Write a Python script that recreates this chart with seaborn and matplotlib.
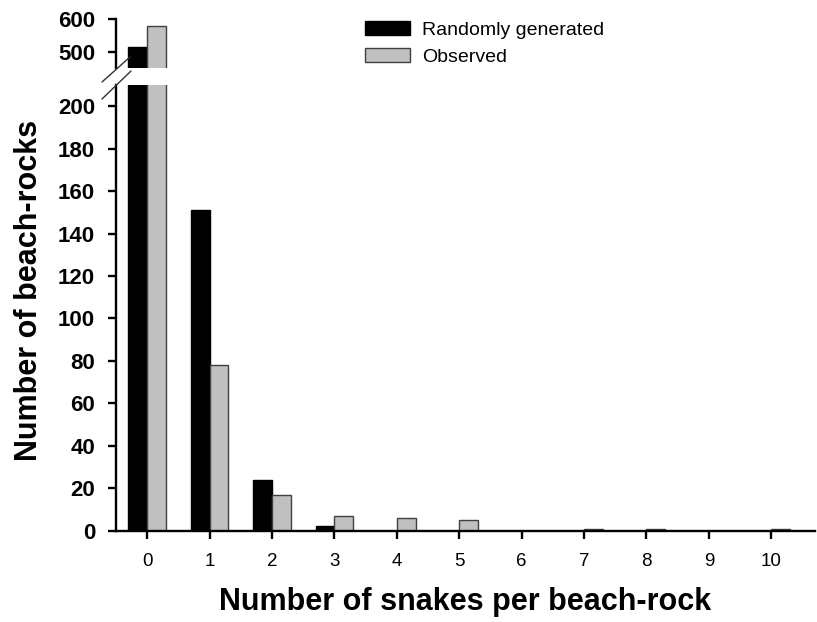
import matplotlib
matplotlib.use("Agg")
import matplotlib.pyplot as plt
from matplotlib.lines import Line2D
from matplotlib.patches import Patch
import seaborn as sns
import pandas as pd

# Frequency of beach-rocks by number of snakes sheltering under them
snakes_per_rock = [0, 1, 2, 3, 4, 5, 6, 7, 8, 9, 10]
randomly_generated = [515, 151, 24, 2, 0, 0, 0, 0, 0, 0, 0]
observed = [580, 78, 17, 7, 6, 5, 0, 1, 1, 0, 1]
series_names = ["Randomly generated", "Observed"]
series_colors = ["#000000", "#c0c0c0"]
series_edges = ["#000000", "#404040"]

lower_ticks = [0, 20, 40, 60, 80, 100, 120, 140, 160, 180, 200]
upper_ticks = [500, 600]

df = pd.DataFrame({
    "snakes": [str(s) for s in snakes_per_rock] * 2,
    "count": randomly_generated + observed,
    "series": [series_names[0]] * len(snakes_per_rock) + [series_names[1]] * len(snakes_per_rock),
})
order = [str(s) for s in snakes_per_rock]

sns.set_theme(style="white")
plt.rcParams["font.family"] = ["Liberation Sans", "DejaVu Sans"]
plt.rcParams.update({"text.color": "black", "axes.labelcolor": "black",
                     "xtick.color": "black", "ytick.color": "black",
                     "axes.edgecolor": "black"})

fig = plt.figure(figsize=(8.17, 6.22), dpi=100)
ax_lo = fig.add_axes([116 / 817, 1 - 530.7 / 622, (815 - 116) / 817, (530.7 - 85) / 622])
ax_hi = fig.add_axes([116 / 817, 1 - 68 / 622, (815 - 116) / 817, (68 - 19) / 622])

for ax in (ax_lo, ax_hi):
    sns.barplot(data=df, x="snakes", y="count", hue="series", order=order,
                hue_order=series_names, palette=series_colors, width=0.6,
                linewidth=1.0, saturation=1, ax=ax, legend=False)
    # edge colour per series
    n = len(snakes_per_rock)
    for i, bar in enumerate(ax.patches[:2 * n]):
        bar.set_edgecolor(series_edges[i // n])
    ax.set_xlim(-0.5, 10.7)
    ax.set_xlabel("")
    ax.set_ylabel("")
    for side in ("top", "right"):
        ax.spines[side].set_visible(False)
    ax.spines["left"].set_linewidth(1.7)
    ax.tick_params(axis="y", direction="out", length=6, width=1.7,
                   left=True, labelsize=16, pad=9)

ax_lo.set_ylim(0, 210)
ax_lo.set_yticks(lower_ticks)
ax_lo.set_yticklabels([str(t) for t in lower_ticks], fontweight="bold", fontsize=16)
ax_lo.spines["bottom"].set_linewidth(1.7)
ax_lo.tick_params(axis="x", direction="out", length=6, width=1.7,
                  bottom=True, labelsize=13.5, pad=10)
ax_lo.set_xticks(range(len(snakes_per_rock)))
ax_lo.set_xticklabels(order)
ax_lo.set_xlabel("Number of snakes per beach-rock", fontsize=22, fontweight="bold", labelpad=12)

ax_hi.set_ylim(450, 600)
ax_hi.set_yticks(upper_ticks)
ax_hi.set_yticklabels([str(t) for t in upper_ticks], fontweight="bold", fontsize=16)
ax_hi.spines["bottom"].set_visible(False)
ax_hi.tick_params(axis="x", bottom=False, labelbottom=False)

# axis break marks
for (x0, y0, x1, y1) in [(102, 82, 130, 57), (102, 99, 131, 71)]:
    fig.add_artist(Line2D([x0 / 817, x1 / 817], [1 - y0 / 622, 1 - y1 / 622],
                          transform=fig.transFigure, color="#333333", lw=1.0))

fig.text(29 / 817, 1 - 290 / 622, "Number of beach-rocks", rotation=90,
         fontsize=22, fontweight="bold", ha="center", va="center")

handles = [Patch(facecolor=c, edgecolor=e, linewidth=1.0) for c, e in zip(series_colors, series_edges)]
fig.legend(handles, series_names, loc="upper left", bbox_to_anchor=(365 / 817, 1 - 21 / 622),
           frameon=False, fontsize=14, handlelength=2.3, handleheight=0.75,
           handletextpad=0.65, labelspacing=0.45, borderpad=0, borderaxespad=0)

fig.savefig("out.png", dpi=100)
